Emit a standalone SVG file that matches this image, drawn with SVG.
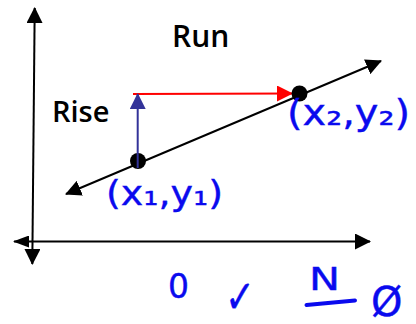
<svg xmlns="http://www.w3.org/2000/svg" width="416" height="324" viewBox="0 0 416 324">
<style>
.ax{stroke:#000;stroke-width:2;fill:none}
.lbl{font-family:"Open Sans","Liberation Sans",sans-serif;font-weight:600;fill:#000}
.hw{font-family:"DejaVu Sans","Liberation Sans",sans-serif;fill:#0a0aee;stroke:#0a0aee;stroke-width:0.4}
.dot{fill:#000}
</style>
<defs>
<marker id="ah" viewBox="0 0 16 16" refX="15" refY="8" markerWidth="16" markerHeight="16" markerUnits="userSpaceOnUse" orient="auto-start-reverse"><path d="M0,0 L16,8 L0,16 z" fill="#000"/></marker>
<marker id="ahs" viewBox="0 0 16 12" refX="15" refY="6" markerWidth="16" markerHeight="12" markerUnits="userSpaceOnUse" orient="auto-start-reverse"><path d="M0,0 L16,6 L0,12 z" fill="#000"/></marker>
<marker id="ahb" viewBox="0 0 16 16" refX="15" refY="8" markerWidth="16" markerHeight="16" markerUnits="userSpaceOnUse" orient="auto"><path d="M0,0 L16,8 L0,16 z" fill="#333399"/></marker>
<marker id="ahr" viewBox="0 0 16 16" refX="15" refY="8" markerWidth="16" markerHeight="16" markerUnits="userSpaceOnUse" orient="auto"><path d="M0,0 L16,8 L0,16 z" fill="#ff0000"/></marker>
</defs>
<g id="connectors">
<line id="y-axis" class="ax" x1="32.3" y1="264" x2="34.7" y2="8" marker-start="url(#ah)" marker-end="url(#ah)"/>
<line id="x-axis" class="ax" x1="14" y1="241.5" x2="370" y2="241.5" marker-start="url(#ahs)" marker-end="url(#ah)"/>
<line id="slope-line" class="ax" x1="66" y1="194" x2="381" y2="61" marker-start="url(#ah)" marker-end="url(#ah)"/>
<line id="run-arrow" x1="133" y1="94" x2="292" y2="93.5" stroke="#ff0000" stroke-width="2" marker-end="url(#ahr)"/>
</g>
<g id="point1">
<circle class="dot" cx="138" cy="161" r="8"/>
<text class="hw" x="106" y="205" font-size="34" textLength="117" lengthAdjust="spacingAndGlyphs">(x₁,y₁)</text>
</g>
<g id="point2">
<circle class="dot" cx="299.5" cy="93.5" r="8"/>
<text class="hw" x="287" y="125" font-size="35" textLength="123" lengthAdjust="spacingAndGlyphs">(x₂,y₂)</text>
</g>
<g id="rise">
<line x1="137.7" y1="168" x2="137.7" y2="94" stroke="#333399" stroke-width="2" marker-end="url(#ahb)"/>
<text class="lbl" x="52" y="122" font-size="29">Rise</text>
</g>
<g id="run">
<text class="lbl" x="172" y="47" font-size="30">Run</text>
</g>
<g id="notes">
<text class="hw" x="168" y="298" font-size="33">0</text>
<text class="hw" x="225" y="313" font-size="46" textLength="30" lengthAdjust="spacingAndGlyphs">✓</text>
<text class="hw" x="309" y="290" font-size="32" textLength="31" lengthAdjust="spacingAndGlyphs">N</text>
<line x1="306.5" y1="305" x2="355" y2="300.5" stroke="#0a0aee" stroke-width="4" stroke-linecap="round"/>
<text class="hw" x="371" y="316" font-size="40">Ø</text>
</g>
</svg>
